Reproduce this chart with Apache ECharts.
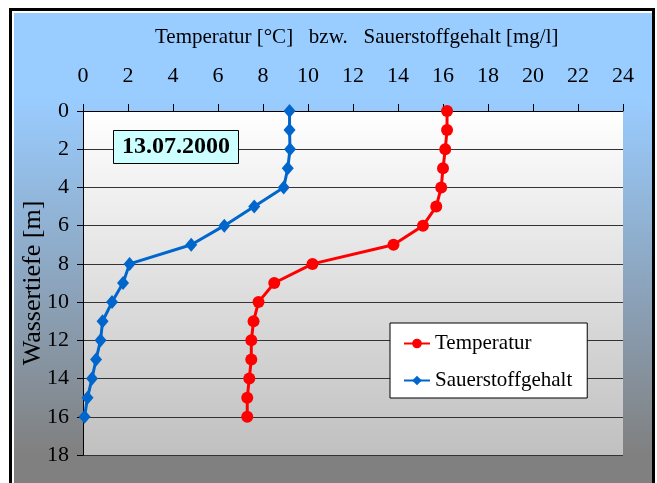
<!DOCTYPE html>
<html>
<head>
<meta charset="utf-8">
<script src="https://cdn.jsdelivr.net/npm/echarts@6/dist/echarts.min.js"></script>
<style>
html,body{margin:0;padding:0;background:#fff;}
#chart{width:657px;height:483px;}
</style>
</head>
<body>
<div id="chart"></div>
<script>
// Depths in metres
const depths = [0,1,2,3,4,5,6,7,8,9,10,11,12,13,14,15,16];
// Temperature [°C]
const temperatur = [16.18,16.18,16.1,16.0,15.92,15.7,15.11,13.8,10.2,8.5,7.8,7.58,7.48,7.48,7.39,7.3,7.3];
// Oxygen [mg/l]
const sauerstoff = [9.18,9.18,9.2,9.1,8.92,7.61,6.28,4.81,2.07,1.78,1.29,0.87,0.78,0.58,0.4,0.2,0.07];
const xTicks = [0,2,4,6,8,10,12,14,16,18,20,22,24];
const yTicks = [0,2,4,6,8,10,12,14,16,18];
const titleText = 'Temperatur [°C]   bzw.   Sauerstoffgehalt [mg/l]';
const dateText = '13.07.2000';
const yName = 'Wassertiefe [m]';

const FONT = '"Liberation Serif","DejaVu Serif",serif';
const chart = echarts.init(document.getElementById('chart'));

const option = {
  animation: false,
  graphic: [
    {type:'rect', z:-100, silent:true, shape:{x:10.5,y:9.5,width:643,height:490},
     style:{fill:'#fff', stroke:'#000', lineWidth:3}},
    {type:'rect', z:-99, silent:true, shape:{x:14,y:13,width:638,height:480},
     style:{fill: new echarts.graphic.LinearGradient(0,0,0,1,[
       {offset:0,color:'#99CCFF'},{offset:0.18,color:'#99CCFF'},
       {offset:0.92,color:'#808080'},{offset:1,color:'#808080'}])}}
  ],
  title: [
    {text: titleText, left: 150, top: 22,
     textStyle:{fontFamily:FONT, fontSize:21, fontWeight:'normal', color:'#000'}},
    {text: dateText, left: 113, top: 130,
     backgroundColor:'#CCFFFF', borderColor:'#000', borderWidth:1,
     padding:[5,9,5,9],
     textStyle:{fontFamily:FONT, fontSize:24, fontWeight:'bold', color:'#000', lineHeight:24}}
  ],
  legend: {
    orient:'vertical', left:390, top:323,
    backgroundColor:'#fff', borderColor:'#000', borderWidth:1,
    padding:[10,15,7,13], itemGap:16, itemWidth:26, itemHeight:12,
    textStyle:{fontFamily:FONT, fontSize:21, color:'#000'},
    data:['Temperatur','Sauerstoffgehalt']
  },
  grid: {
    left:83, top:111, right:34, bottom:28, show:true, borderWidth:0,
    backgroundColor: new echarts.graphic.LinearGradient(0,0,0,1,[
      {offset:0,color:'#FFFFFF'},{offset:1,color:'#C0C0C0'}])
  },
  xAxis: {
    type:'value', position:'top', min:0, max:24, interval:2,
    axisLine:{show:true, onZero:false, lineStyle:{color:'#000', width:1}},
    axisTick:{show:true, length:7, lineStyle:{color:'#000'}},
    splitLine:{show:false},
    axisLabel:{margin:24, fontFamily:FONT, fontSize:22, color:'#000',
      formatter: v => xTicks.includes(v) ? String(v) : ''}
  },
  yAxis: {
    type:'value', inverse:true, min:0, max:18, interval:2,
    name: yName, nameLocation:'middle', nameGap:37, nameRotate:90,
    nameMoveOverlap:false,
    nameTextStyle:{fontFamily:FONT, fontSize:26, color:'#000'},
    axisLine:{show:true, onZero:false, lineStyle:{color:'#000', width:1}},
    axisTick:{show:true, length:6, lineStyle:{color:'#000'}},
    splitLine:{show:true, lineStyle:{color:'#333', width:1}},
    axisLabel:{margin:14, fontFamily:FONT, fontSize:22, color:'#000',
      formatter: v => yTicks.includes(v) ? String(v) : ''}
  },
  series: [
    {name:'Temperatur', type:'line', symbol:'circle', symbolSize:12,
     data: depths.map((d,i)=>[temperatur[i], d]),
     lineStyle:{color:'#FF0000', width:3}, itemStyle:{color:'#FF0000'}, z:3},
    {name:'Sauerstoffgehalt', type:'line', symbol:'diamond', symbolSize:[12,14],
     data: depths.map((d,i)=>[sauerstoff[i], d]),
     lineStyle:{color:'#0066CC', width:3}, itemStyle:{color:'#0066CC'}, z:4}
  ]
};
chart.setOption(option);
</script>
</body>
</html>
